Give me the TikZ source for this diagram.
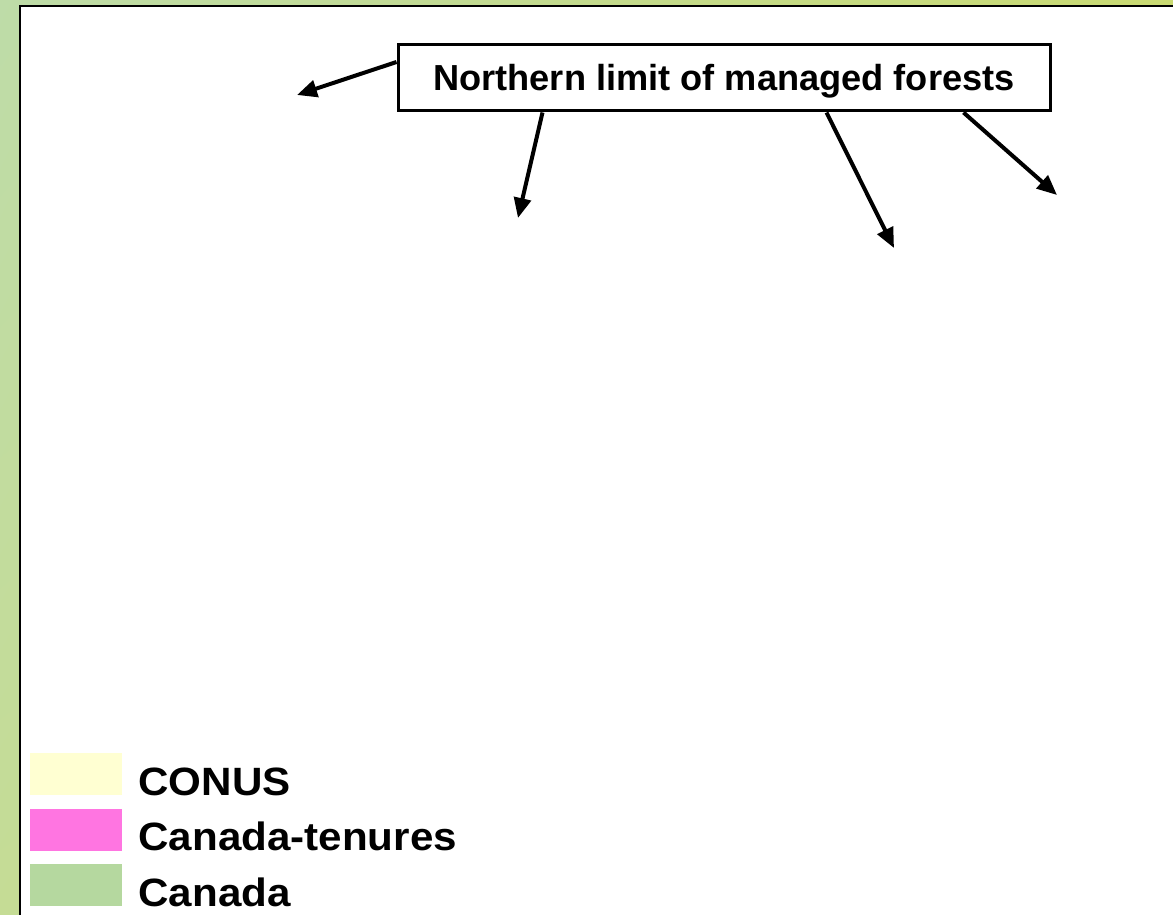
\documentclass[tikz,border=0pt]{standalone}
\usepackage{fontspec}
\setsansfont{Liberation Sans}
\usetikzlibrary{arrows.meta,positioning,shadings}
\definecolor{bgUL}{HTML}{BEDCA8}
\definecolor{bgUR}{HTML}{C9DA72}
\definecolor{bgLL}{HTML}{C5DC95}
\definecolor{bgLR}{HTML}{CBDA70}
\definecolor{conus}{HTML}{FFFFD2}
\definecolor{tenure}{HTML}{FF75E1}
\definecolor{canada}{HTML}{B5D89F}
\tikzset{
    %Define style for the label box
    limitbox/.style={
           rectangle,
           draw=black, line width=3pt,
           fill=white,
           minimum width=652pt,
           minimum height=66pt,
           inner sep=0pt,
           text height=26pt,
           text depth=0pt,
           font=\sffamily\bfseries\fontsize{36.2}{42}\selectfont,
           text centered},
    %Define style for legend swatches
    swatch/.style={
           rectangle,
           minimum width=92pt,
           minimum height=42pt,
           inner sep=0pt},
    legtext/.style={
           font=\sffamily\bfseries\fontsize{39.5}{45}\selectfont,
           xscale=1.067,
           inner sep=0pt,
           anchor=base west},
    % Define arrow style
    pointer/.style={
           -{Triangle[length=20pt,width=17pt]},
           line width=4pt}
}
\begin{document}
\begin{tikzpicture}[x=1pt,y=-1pt]
\useasboundingbox (0,0) rectangle (1173,915);
 %background and panel
\shade[upper left=bgUL, upper right=bgUR, lower left=bgLL, lower right=bgLR] (0,0) rectangle (1173,915);
\fill[white] (20,6) rectangle (1190,930);
\draw[line width=2.5pt] (20,930) |- (1190,6);

 %nodes
\node[limitbox] (title) at (724,78) {Northern limit of managed forests};
\coordinate (t1) at (297,95);
\coordinate (t2) at (518,218);
\coordinate (t3) at (894,248);
\coordinate (t4) at (1057,195);

\draw[pointer] ([yshift=16pt]title.west) -- (t1);
\draw[pointer] ([xshift=146pt]title.south west) -- (t2);
\draw[pointer] ([xshift=430pt]title.south west) -- (t3);
\draw[pointer] ([xshift=567pt]title.south west) -- (t4);

 %legend
\node[swatch, fill=conus] (sw1) at (76,774) {};
\node[swatch, fill=tenure] (sw2) at (76,829.5) {};
\node[swatch, fill=canada] (sw3) at (76,885) {};
\node[legtext] (lab1) at ([xshift=16pt]sw1.south east) {CONUS};
\node[legtext] (lab2) at ([xshift=16pt]sw2.south east) {Canada-tenures};
\node[legtext] (lab3) at ([xshift=16pt]sw3.south east) {Canada};
\end{tikzpicture}
\end{document}
